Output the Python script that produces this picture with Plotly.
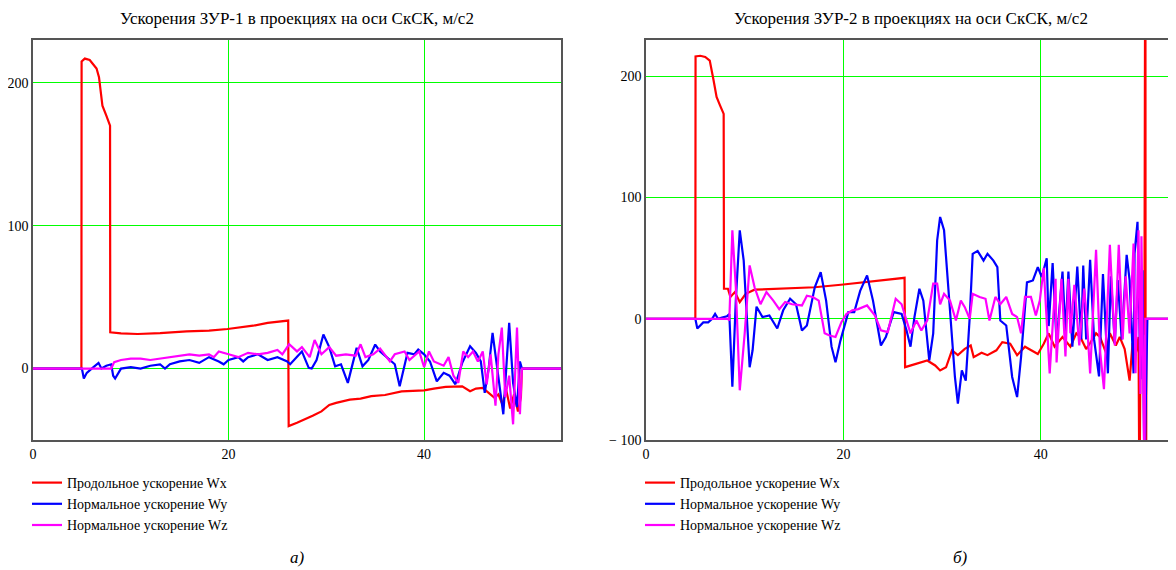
import plotly.graph_objects as go

# ---------------- data: left chart (ЗУР-1) ----------------
t1_wx = [0, 4.95, 4.97, 5.3, 5.8, 6.2, 6.5, 6.75, 7.1, 7.5, 7.88, 7.9, 9, 10.7, 13, 15.7, 18, 19.9, 21, 22.5, 24, 26.1,
         26.15, 27, 28.6, 29.5, 30.3, 31, 32.4, 33.5, 34.6, 36, 37.7, 39, 40, 41, 42.2, 43.9, 44.7, 45.3, 46, 46.6,
         47.2, 47.6, 48, 48.4, 48.8, 49.2, 49.6, 49.9, 50.0, 54]
wx1 = [0, 0, 215, 217, 216, 213, 210, 204, 184, 177, 170, 25.4, 24.6, 24.2, 24.8, 26.1, 26.5, 27.7, 28.7, 30, 32, 33.6,
       -40.3, -38, -33, -30, -25.5, -24, -21.7, -21, -19.3, -18.5, -16, -15.5, -15.2, -14, -12.8, -12.4, -15.9, -14,
       -13.5, -17, -20.5, -18, -25, -15, -28, -18, -30, -20, 0, 0]

t1_wy = [0, 5.0, 5.2, 5.5, 6.0, 6.7, 7.0, 7.5, 8.0, 8.2, 8.4, 9, 10, 11, 12, 13, 13.5, 14, 15, 16, 17, 18, 19, 19.5,
         20, 21, 21.5, 22, 23, 24, 25, 26, 26.3, 27, 27.5, 28.2, 28.5, 29, 29.7, 30.3, 30.9, 31.5, 32.2, 33.1, 33.7,
         34.3, 35, 35.5, 36.2, 37, 37.5, 38.3, 39, 39.4, 40, 40.6, 41.3, 42, 42.6, 43.2, 43.9, 44.7, 45.3, 45.8,
         46.2, 46.6, 47.0, 47.4, 47.7, 48.1, 48.4, 48.7, 49.1, 49.5, 49.8, 50.0, 54]
wy1 = [0, 0, -7, -3, 0, 4, 0, 2, 3, -5, -7, 0, 1, 0, 2, 3, 0, 3, 5, 6, 4, 8, 5, 3,
       6, 8, 5, 8, 10, 6, 8, 5, 3, 8, 12, 0.5, 0, 6, 23.8, 15, 1.6, 3, -10, 14.5, 1.6,
       6, 16.8, 12, 7.5, 3, -12.4, 11, 10, 13.3, 10, 5, -8.9, -3, -5, -11, 4, 15.6, 11, 5,
       -17, 0, 25, 5, -10, -32, 0, 32, -10, -27, 5, 0, 0]

t1_wz = [0, 8.0, 8.3, 9, 10, 11, 12, 13, 14, 15, 16, 17, 18, 18.5, 19, 20, 21, 22, 23, 24, 25, 25.5, 26.2, 27, 27.5,
         28.3, 28.8, 29.5, 30.3, 31, 32, 33, 33.5, 34, 34.8, 35.5, 36.5, 37, 38, 38.5, 39.5, 40, 40.5, 41, 42, 42.5,
         43, 43.5, 44, 44.5, 45, 45.5, 46.0, 46.4, 46.8, 47.3, 47.6, 47.95, 48.3, 48.7, 49.1, 49.5, 49.8, 50.0, 54]
wz1 = [0, 0, 4.5, 6, 7, 7, 6, 7, 8, 9, 10, 9, 10, 8, 12, 10, 8, 11, 10, 11, 13, 10, 17, 12, 15,
       8, 20, 10, 15, 9, 10, 9, 17, 8, 10, 14, 5, 10, 12, 6, 12, 1, 12, 5, 2, 8,
       -5, -10, 12, 8, 12, 5, 12, -11, 10, -26, 10, 28.7, -20, -5, -39, 28.7, -32, 0, 0]

# ---------------- data: right chart (ЗУР-2) ----------------
t2_wx = [0, 5.0, 5.02, 5.5, 6.0, 6.46, 6.84, 7.15, 7.5, 7.87, 7.9, 8.3, 8.55, 9.0, 9.5, 10.1, 11, 14, 17.1, 20, 23.2,
         26.2, 26.25, 27.4, 28.5, 29.3, 29.8, 30.4, 31, 31.6, 32.3, 32.9, 33.2, 34, 34.6, 35.5, 36.1, 36.9, 37.6,
         38.4, 39.7, 40.3, 40.8, 41.4, 42.2, 43, 43.6, 44, 44.6, 45, 45.6, 46, 46.6, 47, 47.6, 48, 48.5, 49.0, 49.3,
         49.6, 49.9, 50.0, 50.1, 50.5, 50.6, 50.63, 50.7, 53.7]
wx2 = [0, 0, 216.5, 217, 216, 213, 197, 183, 176, 169, 24.8, 24.8, 18, 22, 13.8, 20.6, 24, 25, 26, 28.3, 31,
       33.8, -39.9, -37, -34.4, -38.5, -42.6, -40, -26, -30, -24.8, -22, -31.6, -28, -30, -26, -19.3, -20.6, -30,
       -23, -29, -20.6, -12, -23, -15, -23, -12, -15, -25, -20, -12, -15, -28, -12, -22, -15, -25, -51, -20,
       -30, -15, -160, -20, -10, 400, -400, 0, 0]

t2_wy = [0, 5.0, 5.2, 5.8, 6.3, 6.7, 7.0, 7.3, 7.7, 8.2, 8.44, 8.75, 9.1, 9.5, 9.9, 10.5, 10.8, 11.2, 11.8, 12.5,
         13.3, 13.9, 14.6, 15.2, 15.8, 16.3, 17.1, 17.7, 18.25, 18.8, 19.2, 19.7, 20.5, 21.1, 21.7, 22.4, 23.0,
         23.8, 24.3, 25.1, 25.9, 26.4, 26.8, 27.2, 27.7, 28.1, 28.7, 29.1, 29.5, 29.8, 30.2, 30.8, 31.3, 31.6, 32.0,
         32.4, 32.8, 33.1, 33.6, 34.2, 34.6, 35.2, 35.6, 35.9, 36.5, 37.1, 37.6, 38.0, 38.6, 39.2, 39.7, 40.1,
         40.6, 40.8, 41.2, 41.6, 42.2, 42.5, 42.8, 43.2, 43.7, 44.1, 44.3, 44.6, 45.0, 45.4, 45.9, 46.3, 46.8,
         47.1, 47.5, 47.8, 48.2, 48.7, 49.0, 49.4, 49.5, 49.8, 50.1, 50.3, 50.5, 50.8, 53.7]
wy2 = [0, 0, -8, -3, -3, 0, 4, 0, 1, 2, 4, -56, 15, 73, 48, -40, -26, 10, 1.4, 2.7,
       -8, 7, 16.5, 12, -9.6, -5.5, 26, 38.5, 15, -23, -35.8, -18, 5.5, 5.5, 23, 35.8, 15,
       -22, -15, 5.5, 4, -9.6, -23, 1.4, 24.8, 15, -34.4, -12, 64.6, 84, 73, 7, -48, -70, -42.6,
       -51, 1.4, 53.6, 56, 48, 53.6, 48, 42.6, -1.4, -5.5, -48, -64.6, -31.6, 30, 31.6, 42.6, 34.4,
       50, -6, 46, -20, 39, -11.7, 39, -23, 43, -17, 44, -17, 48.6, -17, -47.5, 37, -45,
       35, -20, 32, -17, 52.7, 32, -45, 54, 80, -50, 40, -130, 0, 0]

t2_wz = [0, 8.3, 8.44, 8.75, 9.1, 9.5, 10.0, 10.5, 11.0, 11.6, 12.2, 12.9, 13.5, 14.1, 14.8, 15.8, 16.3, 16.9, 17.5,
         18.1, 18.6, 19.2, 19.8, 20.3, 20.9, 21.5, 22.4, 23.2, 23.8, 24.5, 25.3, 25.9, 26.4, 26.8, 27.4, 27.9,
         28.5, 29.1, 29.5, 29.8, 30.2, 30.8, 31.4, 31.9, 32.3, 32.8, 33.1, 33.8, 34.4, 34.8, 35.4, 35.9, 36.5,
         37.1, 37.6, 38.0, 38.4, 39.0, 39.5, 39.9, 40.3, 40.9, 41.5, 41.6, 42.1, 42.5, 42.8, 43.0, 43.4, 43.9,
         44.4, 44.7, 45.0, 45.6, 46.0, 46.4, 47.0, 47.5, 47.9, 48.3, 48.6, 49.0, 49.4, 49.6, 49.9, 50.1, 50.2,
         50.4, 50.5, 50.6, 50.8, 53.7]
wz2 = [0, 0, -1.4, 73, 26, -59, -12, 44, 26, 12, 22, 15, 8, 13.8, 12, 11, 19, 18, 15,
       -12, -13.8, -15, -2.8, 4, 7, 8, 11, 2.7, -9.6, -11, 16.5, 12, -1.4, -12, -1.4, -9.6,
       -1.4, 29, 29, 12, 20.6, 15, -1.4, 15, 9.6, 0, 20.6, 18, 16.5, -1.4, 18, 12, 18,
       4, 1.4, -12, 18, 18, 2.7, 15, 42, -45, 33, -36, 33, -31, 33, -12, 28, -22,
       25, -5, -45, 57, -26, -58, 61, -22, 61, -17, 35, -12, 62, -45, 73, -62, 68,
       -100, -130, 0, 0, 0]

names = ["Продольное ускорение Wx", "Нормальное ускорение Wy", "Нормальное ускорение Wz"]
colors = ["#ff0000", "#0000ff", "#ff00ff"]
titles = ["Ускорения ЗУР-1 в проекциях на оси СкСК, м/с2", "Ускорения ЗУР-2 в проекциях на оси СкСК, м/с2"]
captions = ["а)", "б)"]

FONT = "Liberation Serif, Times New Roman, serif"
# the page body has an 8px margin; work in window pixels and convert
OFF = 8
W, H = 1176 - OFF, 570 - OFF


def px(X):
    return (X - OFF) / W


def py(Y):
    return 1 - (Y - OFF) / H


fig = go.Figure()
left = [(t1_wx, wx1), (t1_wy, wy1), (t1_wz, wz1)]
right = [(t2_wx, wx2), (t2_wy, wy2), (t2_wz, wz2)]
for i, (tt, vv) in enumerate(left):
    fig.add_trace(go.Scatter(x=tt, y=vv, mode="lines", name=names[i], line=dict(color=colors[i], width=2.2),
                             xaxis="x", yaxis="y", legend="legend"))
for i, (tt, vv) in enumerate(right):
    fig.add_trace(go.Scatter(x=tt, y=vv, mode="lines", name=names[i], line=dict(color=colors[i], width=2.2),
                             xaxis="x2", yaxis="y2", legend="legend2"))

ydom = [py(440), py(40)]
common_ax = dict(showgrid=True, gridcolor="#00ff00", gridwidth=1, zeroline=False, showline=True, automargin=False,
                 linecolor="#555555", linewidth=1.5, ticks="", tickfont=dict(family=FONT, size=14, color="black"))

leg = dict(xanchor="left", yanchor="top", bgcolor="rgba(0,0,0,0)",
           font=dict(family=FONT, size=14, color="black"), tracegroupgap=0, itemwidth=30)

fig.update_layout(
    width=W, height=H, margin=dict(l=0, r=0, t=0, b=0, autoexpand=False),
    paper_bgcolor="white", plot_bgcolor="white",
    font=dict(family=FONT, size=14, color="black"),
    xaxis=dict(domain=[px(33), px(561)], range=[0, 54], tickvals=[0, 20, 40], mirror=True, **common_ax),
    yaxis=dict(domain=ydom, range=[-50, 230], tickvals=[0, 100, 200], mirror=True, **common_ax),
    xaxis2=dict(domain=[px(646), 1.0], range=[0, 53.7], tickvals=[0, 20, 40], mirror=True, anchor="y2", **common_ax),
    yaxis2=dict(domain=ydom, range=[-100, 230], tickvals=[-100, 0, 100, 200],
                ticktext=["\u2212 100", "0", "100", "200"], mirror=False, anchor="x2", **common_ax),
    legend=dict(x=px(27), y=py(467), **leg),
    legend2=dict(x=px(640), y=py(467), **leg),
    showlegend=True,
)

annotations = [
    dict(text=titles[0], x=px(297), y=py(18), xref="paper", yref="paper", showarrow=False,
         xanchor="center", yanchor="middle", font=dict(family=FONT, size=17)),
    dict(text=titles[1], x=px(911), y=py(18), xref="paper", yref="paper", showarrow=False,
         xanchor="center", yanchor="middle", font=dict(family=FONT, size=17)),
    dict(text="<i>" + captions[0] + "</i>", x=px(297), y=py(557), xref="paper", yref="paper", showarrow=False,
         xanchor="center", yanchor="middle", font=dict(family=FONT, size=17)),
    dict(text="<i>" + captions[1] + "</i>", x=px(960), y=py(557), xref="paper", yref="paper", showarrow=False,
         xanchor="center", yanchor="middle", font=dict(family=FONT, size=17)),
]
fig.update_layout(annotations=annotations)

fig.write_html("out.html")
